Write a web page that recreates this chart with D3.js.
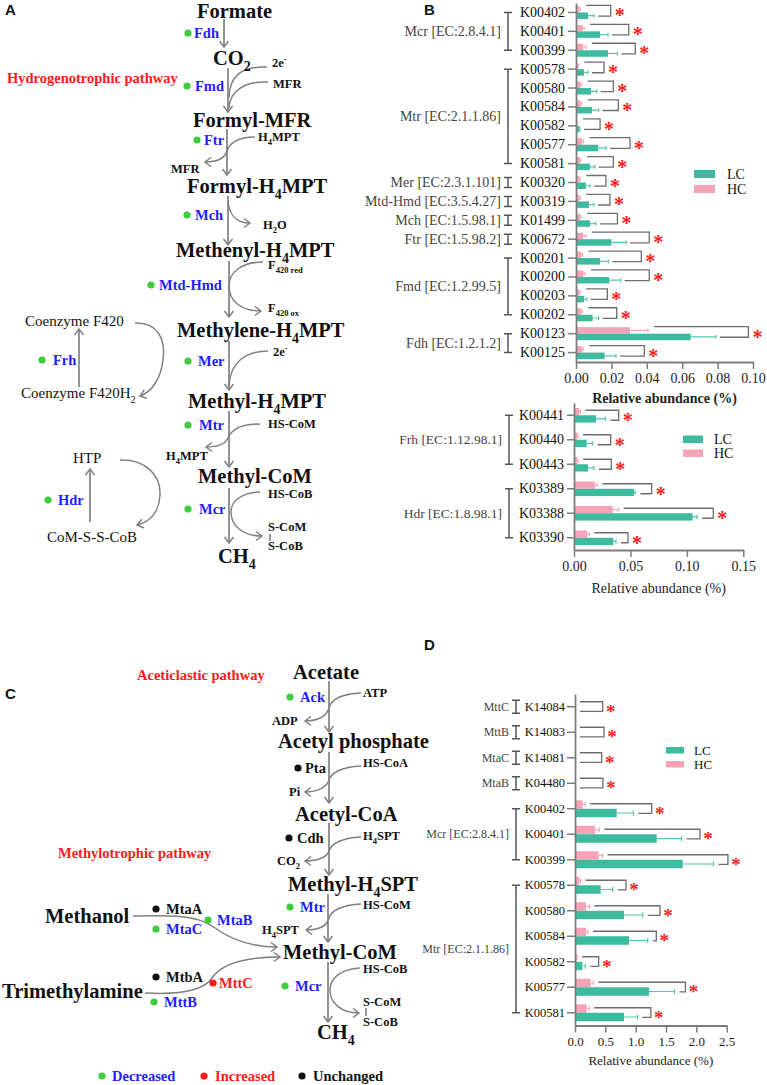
<!DOCTYPE html>
<html><head><meta charset="utf-8">
<script src="https://cdn.jsdelivr.net/npm/d3@7"></script>
<style>body{margin:0;background:#fff}</style>
</head><body><svg id="fig" width="767" height="1085"></svg>
<script>
// ---------------- DATA ----------------
// Panel B (upper chart)
const keysB1 = ["K00402","K00401","K00399","K00578","K00580","K00584","K00582","K00577","K00581","K00320","K00319","K01499","K00672","K00201","K00200","K00203","K00202","K00123","K00125"];
const lcB1    = [0.0068,0.0136,0.0181,0.0045,0.0085,0.0090,0.0019,0.0126,0.0079,0.0056,0.0073,0.0079,0.0200,0.0136,0.0188,0.0045,0.0094,0.0648,0.0162];
const lcErrB1 = [0.0034,0.0045,0.0053,0.0023,0.0032,0.0038,0.0004,0.0043,0.0028,0.0023,0.0028,0.0034,0.0083,0.0047,0.0064,0.0015,0.0034,0.0143,0.0064];
const hcB1    = [0.0019,0.0038,0.0041,0.0010,0.0026,0.0026,0.0004,0.0034,0.0023,0.0019,0.0019,0.0023,0.0041,0.0030,0.0041,0.0019,0.0030,0.0305,0.0034];
const hcErrB1 = [0.0005,0.0008,0.0015,0.0004,0.0006,0.0006,0.0002,0.0008,0.0006,0.0005,0.0005,0.0006,0.0015,0.0007,0.0010,0.0004,0.0006,0.0102,0.0008];
const sigB1   = [0.0196,0.0298,0.0335,0.0158,0.0211,0.0239,0.0136,0.0305,0.0211,0.0169,0.0192,0.0234,0.0414,0.0369,0.0414,0.0177,0.0230,0.0974,0.0386];
const groupNamesB1 = ["Mcr [EC:2.8.4.1]","Mtr [EC:2.1.1.86]","Mer [EC:2.3.1.101]","Mtd-Hmd [EC:3.5.4.27]","Mch [EC:1.5.98.1]","Ftr [EC:1.5.98.2]","Fmd [EC:1.2.99.5]","Fdh [EC:1.2.1.2]"];
const groupSizesB1 = [3,6,1,1,1,1,4,2];
const ticksB1 = [0,0.02,0.04,0.06,0.08,0.10];

// Panel B (lower chart)
const keysB2 = ["K00441","K00440","K00443","K03389","K03388","K03390"];
const lcB2    = [0.0195,0.0112,0.0124,0.0531,0.1051,0.0348];
const lcErrB2 = [0.0083,0.0053,0.0053,0.0012,0.0041,0.0024];
const hcB2    = [0.0047,0.0030,0.0030,0.0186,0.0342,0.0118];
const hcErrB2 = [0.0010,0.0006,0.0006,0.0020,0.0053,0.0018];
const sigB2   = [0.0396,0.0325,0.0331,0.0688,0.1234,0.0478];
const groupNamesB2 = ["Frh [EC:1.12.98.1]","Hdr [EC:1.8.98.1]"];
const groupSizesB2 = [3,3];
const ticksB2 = [0,0.05,0.10,0.15];

// Panel D
const keysD = ["K14084","K14083","K14081","K04480","K00402","K00401","K00399","K00578","K00580","K00584","K00582","K00577","K00581"];
const lcD    = [0,0,0,0,0.687,1.346,1.775,0.423,0.808,0.890,0.120,1.220,0.808];
const lcErrD = [0,0,0,0,0.275,0.410,0.505,0.198,0.308,0.308,0.050,0.420,0.220];
const hcD    = [0,0,0,0,0.126,0.330,0.390,0.070,0.180,0.180,0.027,0.258,0.190];
const hcErrD = [0,0,0,0,0.044,0.070,0.066,0.022,0.055,0.033,0.010,0.044,0.044];
const sigD   = [0.456,0.478,0.440,0.460,1.264,2.060,2.520,0.840,1.400,1.340,0.390,1.820,1.250];
const groupNamesD = ["MttC","MttB","MtaC","MtaB","Mcr [EC:2.8.4.1]","Mtr [EC:2.1.1.86]"];
const groupSizesD = [1,1,1,1,3,6];
const ticksD = [0,0.5,1,1.5,2,2.5];

const seriesNames = ["LC","HC"];
const axisTitle = "Relative abundance (%)";

// ---------------- STYLE ----------------
const SERIF = "'Liberation Serif','Times New Roman',Times,serif";
const SANS = "'Liberation Sans',Arial,sans-serif";
const TEAL = "#3dbb9e", PINK = "#f6a3b7", TEAL_E = "#56c6ac", PINK_E = "#f4a6b8";
const AXIS = "#7d7d7d", GRAY = "#808080";
const BLUE = "#1e1eff", RED = "#ff1a1a", GREEN = "#3ccc3c";

const svg = d3.select("#fig");
svg.append("rect").attr("width",767).attr("height",1085).attr("fill","#fff");
const defs = svg.append("defs");
defs.append("marker").attr("id","arr").attr("viewBox","-8 -6 10 12").attr("refX",0).attr("refY",0)
  .attr("markerWidth",10).attr("markerHeight",12).attr("markerUnits","userSpaceOnUse").attr("orient","auto")
  .append("path").attr("d","M-6,-4.5L0,0L-6,4.5").attr("fill","none").attr("stroke",GRAY).attr("stroke-width",1.5);

// ---------------- BAR CHARTS ----------------
function drawBars(o){
  const g = svg.append("g");
  const x = d3.scaleLinear().domain([0,o.xMax]).range(o.xRange);
  const y = d3.scaleBand().domain(o.keys).range(o.yRange);
  const c = k => y(k) + y.bandwidth()/2;
  const rows = o.keys.map((k,i)=>({k, lc:o.lc[i], lcE:o.lcErr[i], hc:o.hc[i], hcE:o.hcErr[i], sig:o.sig[i]}));
  const x0 = x(0);
  g.selectAll(".hc").data(rows.filter(d=>d.hc>0)).join("rect")
    .attr("x",x0).attr("y",d=>c(d.k)-o.barH).attr("width",d=>x(d.hc)-x0).attr("height",o.barH).attr("fill",PINK);
  g.selectAll(".lc").data(rows.filter(d=>d.lc>0)).join("rect")
    .attr("x",x0).attr("y",d=>c(d.k)).attr("width",d=>x(d.lc)-x0).attr("height",o.barH).attr("fill",TEAL);
  const cap = o.barH*0.3;
  g.selectAll(".hce").data(rows.filter(d=>d.hc>0)).join("path")
    .attr("d",d=>{const yy=c(d.k)-o.barH/2, xe=x(d.hc+d.hcE); return `M${x(d.hc)},${yy}H${xe}M${xe},${yy-cap}V${yy+cap}`;})
    .attr("stroke",PINK_E).attr("stroke-width",1.2).attr("fill","none");
  g.selectAll(".lce").data(rows.filter(d=>d.lc>0)).join("path")
    .attr("d",d=>{const yy=c(d.k)+o.barH/2, xe=x(d.lc+d.lcE); return `M${x(d.lc)},${yy}H${xe}M${xe},${yy-cap}V${yy+cap}`;})
    .attr("stroke",TEAL_E).attr("stroke-width",1.2).attr("fill","none");
  g.selectAll(".brk").data(rows).join("path")
    .attr("d",d=>{const cc=c(d.k);
      return `M${x(d.hc+d.hcE)+o.gapT},${cc-o.bt}H${x(d.sig)}V${cc+o.bb}H${x(d.lc+d.lcE)+o.gapB}`;})
    .attr("stroke","#6e6e6e").attr("stroke-width",1.3).attr("fill","none");
  g.selectAll(".star").data(rows).join("text")
    .attr("x",d=>x(d.sig)+o.starDx).attr("y",d=>c(d.k)+o.starDy)
    .attr("text-anchor","middle").attr("font-family",SERIF).attr("font-size",o.starSize).attr("font-weight","bold")
    .attr("fill",RED).text("*");
  const ax = g.append("g").attr("transform",`translate(${x0},0)`)
    .call(d3.axisLeft(y).tickSize(o.tickLen).tickSizeOuter(0).tickPadding(o.tickPad));
  ax.select(".domain").attr("stroke",AXIS).attr("stroke-width",1.8);
  ax.selectAll(".tick line").attr("stroke",AXIS).attr("stroke-width",1.5);
  ax.selectAll(".tick text").attr("font-family",SERIF).attr("font-size",o.keyFont).attr("fill","#111");
  const bx = g.append("g").attr("transform",`translate(0,${o.yRange[1]})`)
    .call(d3.axisBottom(x).tickValues(o.ticks).tickFormat(d3.format(o.fmt)).tickSize(7).tickSizeOuter(0).tickPadding(4));
  bx.select(".domain").attr("stroke",AXIS).attr("stroke-width",1.8);
  bx.selectAll(".tick line").attr("stroke",AXIS).attr("stroke-width",1.5);
  bx.selectAll(".tick text").attr("font-family",SERIF).attr("font-size",o.tickFont).attr("fill","#222");
  g.append("text").attr("x",(o.xRange[0]+o.xRange[1])/2).attr("y",o.titleY).attr("text-anchor","middle")
    .attr("font-family",SERIF).attr("font-size",o.tickFont).attr("font-weight",o.titleBold?"bold":"normal")
    .attr("fill","#222").text(axisTitle);
  let idx = 0;
  o.groupNames.forEach((name,gi)=>{
    const n = o.groupSizes[gi];
    let y1 = c(o.keys[idx]), y2 = c(o.keys[idx+n-1]); idx += n;
    if(n===1){ y1 -= o.iHalf; y2 += o.iHalf; }
    g.append("path").attr("d",`M${o.gx-4},${y1}H${o.gx+4}M${o.gx},${y1}V${y2}M${o.gx-4},${y2}H${o.gx+4}`)
      .attr("stroke","#555").attr("stroke-width",1.5).attr("fill","none");
    g.append("text").attr("x",o.gx-7).attr("y",(y1+y2)/2).attr("dy","0.35em").attr("text-anchor","end")
      .attr("font-family",SERIF).attr("font-size",o.groupFont).attr("fill","#444").text(name);
  });
  [TEAL,PINK].forEach((col,i)=>{
    const ly = o.leg[1] + i*o.leg[4];
    g.append("rect").attr("x",o.leg[0]).attr("y",ly).attr("width",o.leg[2]).attr("height",o.leg[3]).attr("fill",col);
    g.append("text").attr("x",o.leg[0]+o.leg[5]).attr("y",ly+o.leg[3]/2).attr("dy","0.35em")
      .attr("font-family",SERIF).attr("font-size",o.legFont).attr("fill","#111").text(seriesNames[i]);
  });
}

drawBars({keys:keysB1, lc:lcB1, lcErr:lcErrB1, hc:hcB1, hcErr:hcErrB1, sig:sigB1,
  groupNames:groupNamesB1, groupSizes:groupSizesB1, ticks:ticksB1, fmt:".2f", xMax:0.10,
  xRange:[576,753], yRange:[3,362], barH:6.5, bt:7, bb:3.6, gapT:6, gapB:4, starDx:9, starDy:10, starSize:20,
  tickLen:8, tickPad:3, keyFont:14, tickFont:14, titleY:403, titleBold:true, gx:508, iHalf:5, groupFont:14,
  leg:[694,170,21,8,15,33], legFont:14});
drawBars({keys:keysB2, lc:lcB2, lcErr:lcErrB2, hc:hcB2, hcErr:hcErrB2, sig:sigB2,
  groupNames:groupNamesB2, groupSizes:groupSizesB2, ticks:ticksB2, fmt:".2f", xMax:0.15,
  xRange:[574,743.3], yRange:[403,550], barH:7.3, bt:5, bb:5, gapT:5, gapB:5, starDx:9, starDy:12, starSize:20,
  tickLen:7, tickPad:3, keyFont:14, tickFont:14, titleY:593, titleBold:false, gx:509, iHalf:5, groupFont:13.5,
  leg:[683,435.5,20,7.5,14,31], legFont:14});
drawBars({keys:keysD, lc:lcD, lcErr:lcErrD, hc:hcD, hcErr:hcErrD, sig:sigD,
  groupNames:groupNamesD, groupSizes:groupSizesD, ticks:ticksD, fmt:".1f", xMax:2.5,
  xRange:[575,726.7], yRange:[694,1025.5], barH:8.5, bt:5, bb:4.7, gapT:5, gapB:5, starDx:8, starDy:11, starSize:19,
  tickLen:8, tickPad:2, keyFont:12.5, tickFont:13, titleY:1065, titleBold:false, gx:516, iHalf:6.5, groupFont:12,
  leg:[666,747,18,6.5,14,28], legFont:13});

// ---------------- PATHWAY DIAGRAMS ----------------
function rich(str, x, y, fs, bold, fill){
  const t = svg.append("text").attr("x",x).attr("y",y).attr("font-family",SERIF).attr("font-size",fs)
    .attr("font-weight",bold?"bold":"normal").attr("fill",fill);
  const re = /([_^])\{([^}]*)\}/g; let last=0, m, cur=0; const segs=[];
  while((m=re.exec(str))){ if(m.index>last) segs.push([str.slice(last,m.index),""]); segs.push([m[2],m[1]]); last=re.lastIndex; }
  if(last<str.length) segs.push([str.slice(last),""]);
  segs.forEach(([s,k])=>{
    const target = k==="_" ? fs*0.3 : k==="^" ? -fs*0.4 : 0;
    const ts = t.append("tspan").text(s).attr("dy",target-cur);
    if(k) ts.attr("font-size",fs*0.68);
    cur = target;
  });
  return t;
}
const KIND = {met:[20.5,true,"#111"], co:[12.5,true,"#111"], path:[14.5,true,RED], plain:[15,false,"#111"]};
const DOT = {B:[GREEN,BLUE], K:["#111","#111"], R:[RED,RED]};

const metabolitesA = [["Formate",197,18],["CO_{2}",213,65],["Formyl-MFR",193,127],["Formyl-H_{4}MPT",187,193],
  ["Methenyl-H_{4}MPT",176,257],["Methylene-H_{4}MPT",177,337],["Methyl-H_{4}MPT",188,408],["Methyl-CoM",198,483],["CH_{4}",218,563]];
const cofactorsA = [["2e^{-}",272,67],["MFR",273,88],["H_{4}MPT",258,141],["MFR",171,173],["H_{2}O",263,229],
  ["F_{420 red}",268,269],["F_{420 ox}",268,312],["2e^{-}",273,356],["HS-CoM",268,428],["H_{4}MPT",166,460],
  ["HS-CoB",268,498],["S-CoM",268,531],["S-CoB",268,550]];
const plainA = [["Coenzyme F420",25,326],["Coenzyme F420H_{2}",21,398],["HTP",73,463],["CoM-S-S-CoB",47,542]];
const enzymesA = [["Fdh",194,38,188,33,"B"],["Fmd",195,91,187,86,"B"],["Ftr",204,145,197,140,"B"],["Mch",195,220,187,215,"B"],
  ["Mtd-Hmd",159,290,151,285,"B"],["Mer",198,366,188,361,"B"],["Mtr",199,430,188,425,"B"],["Mcr",199,514,188,509,"B"],
  ["Frh",53,365,42,360,"B"],["Hdr",58,505,48,500,"B"]];
const pathNamesA = [["Hydrogenotrophic pathway",7,83]];
const mainArrowsA = [[224,19,47],[228,68,112],[227,129,175],[228,196,245],[229,261,317],[229,341,390],[229,411,467],[229,488,543],[79,387,329],[90,522,469]];
const curvesA = [
  ["M267,67 C242,66 229,76 229,98",0],
  ["M268,82 C246,81 230,90 229,108",0],
  ["M255,137 C237,137 229,144 227,151 C225,158 217,162 205,162",1],
  ["M228,201 C229,214 236,223 250,223",1],
  ["M263,262 C242,262 229,272 229,286 C229,300 240,311 261,311",1],
  ["M268,351 C246,351 230,362 229,386",0],
  ["M260,424 C240,424 231,431 228,438 C225,445 217,447 206,447",1],
  ["M260,492 C241,493 231,501 231,512 C231,526 243,536 262,536",1],
  ["M135,323 C158,322 166,340 163,360 C161,378 152,392 140,396",1],
  ["M120,460 C145,459 161,475 160,495 C159,512 150,522 137,525",1]];

const metabolitesC = [["Acetate",293,679],["Acetyl phosphate",278,748],["Acetyl-CoA",295,821],["Methyl-H_{4}SPT",288,891],
  ["Methyl-CoM",283,959],["Methanol",45,923],["Trimethylamine",2,998],["CH_{4}",317,1039]];
const cofactorsC = [["ATP",363,697],["ADP",272,725],["HS-CoA",363,767],["Pi",289,796],["H_{4}SPT",363,840],["CO_{2}",277,865],
  ["HS-CoM",363,909],["H_{4}SPT",262,934],["HS-CoB",363,973],["S-CoM",363,1006],["S-CoB",363,1026]];
const enzymesC = [["Ack",300,702,290,697,"B"],["Pta",305,773,298,768,"K"],["Cdh",297,843,289,838,"K"],["Mtr",300,912,290,907,"B"],
  ["MtaA",166,914,156,909,"K"],["MtaB",217,925,208,920,"B"],["MtaC",166,934,156,929,"B"],["MtbA",166,982,156,977,"K"],
  ["MttC",219,988,213,983,"R"],["MttB",164,1007,154,1002,"B"],["Mcr",295,991,285,986,"B"],
  ["Decreased",112,1081,102,1076,"B"],["Increased",215,1081,204,1076,"R"],["Unchanged",313,1081,302,1076,"K"]];
const pathNamesC = [["Aceticlastic pathway",137,680],["Methylotrophic pathway",58,858]];
const mainArrowsC = [[329,681,732],[329,752,803],[329,823,875],[328,894,942],[328,962,1022]];
const curvesC = [
  ["M361,693 C341,694 331,700 329,708 C327,716 318,721 305,721",1],
  ["M361,766 C341,767 331,773 329,780 C327,787 318,792 305,792",1],
  ["M361,837 C341,838 331,844 329,851 C327,857 318,861 305,861",1],
  ["M361,904 C341,905 331,911 329,918 C327,926 318,930 306,930",1],
  ["M360,968 C341,969 330,978 330,990 C330,1003 341,1013 359,1013",1],
  ["M133,916 C168,915 196,915 212,926 C228,938 248,947 277,947",1],
  ["M145,993 C182,995 204,990 212,978 C222,963 246,957 280,957",1]];

function drawPathway(mets, cofs, plains, enz, paths, arrows, curves){
  arrows.forEach(([x,y1,y2])=>svg.append("path").attr("d",`M${x},${y1}V${y2}`).attr("stroke",GRAY)
    .attr("stroke-width",1.7).attr("fill","none").attr("marker-end","url(#arr)"));
  curves.forEach(([d,a])=>{const p=svg.append("path").attr("d",d).attr("stroke",GRAY).attr("stroke-width",1.5).attr("fill","none");
    if(a) p.attr("marker-end","url(#arr)");});
  mets.forEach(([s,x,y])=>rich(s,x,y,...KIND.met));
  cofs.forEach(([s,x,y])=>rich(s,x,y,...KIND.co));
  plains.forEach(([s,x,y])=>rich(s,x,y,...KIND.plain));
  paths.forEach(([s,x,y])=>rich(s,x,y,...KIND.path));
  enz.forEach(([s,x,y,cx,cy,k])=>{
    svg.append("circle").attr("cx",cx).attr("cy",cy).attr("r",3.6).attr("fill",DOT[k][0]);
    rich(s,x,y,14.5,true,DOT[k][1]);
  });
}
drawPathway(metabolitesA, cofactorsA, plainA, enzymesA, pathNamesA, mainArrowsA, curvesA);
drawPathway(metabolitesC, cofactorsC, [], enzymesC, pathNamesC, mainArrowsC, curvesC);
[[270,534,541],[366,1008,1016]].forEach(([x,y1,y2])=>svg.append("path").attr("d",`M${x},${y1}V${y2}`).attr("stroke","#333").attr("stroke-width",1));

[["A",5,15],["B",424,15],["C",5,699],["D",424,650]].forEach(([s,x,y])=>
  svg.append("text").attr("x",x).attr("y",y).attr("font-family",SANS).attr("font-weight","bold").attr("font-size",15).attr("fill","#111").text(s));
</script></body></html>
